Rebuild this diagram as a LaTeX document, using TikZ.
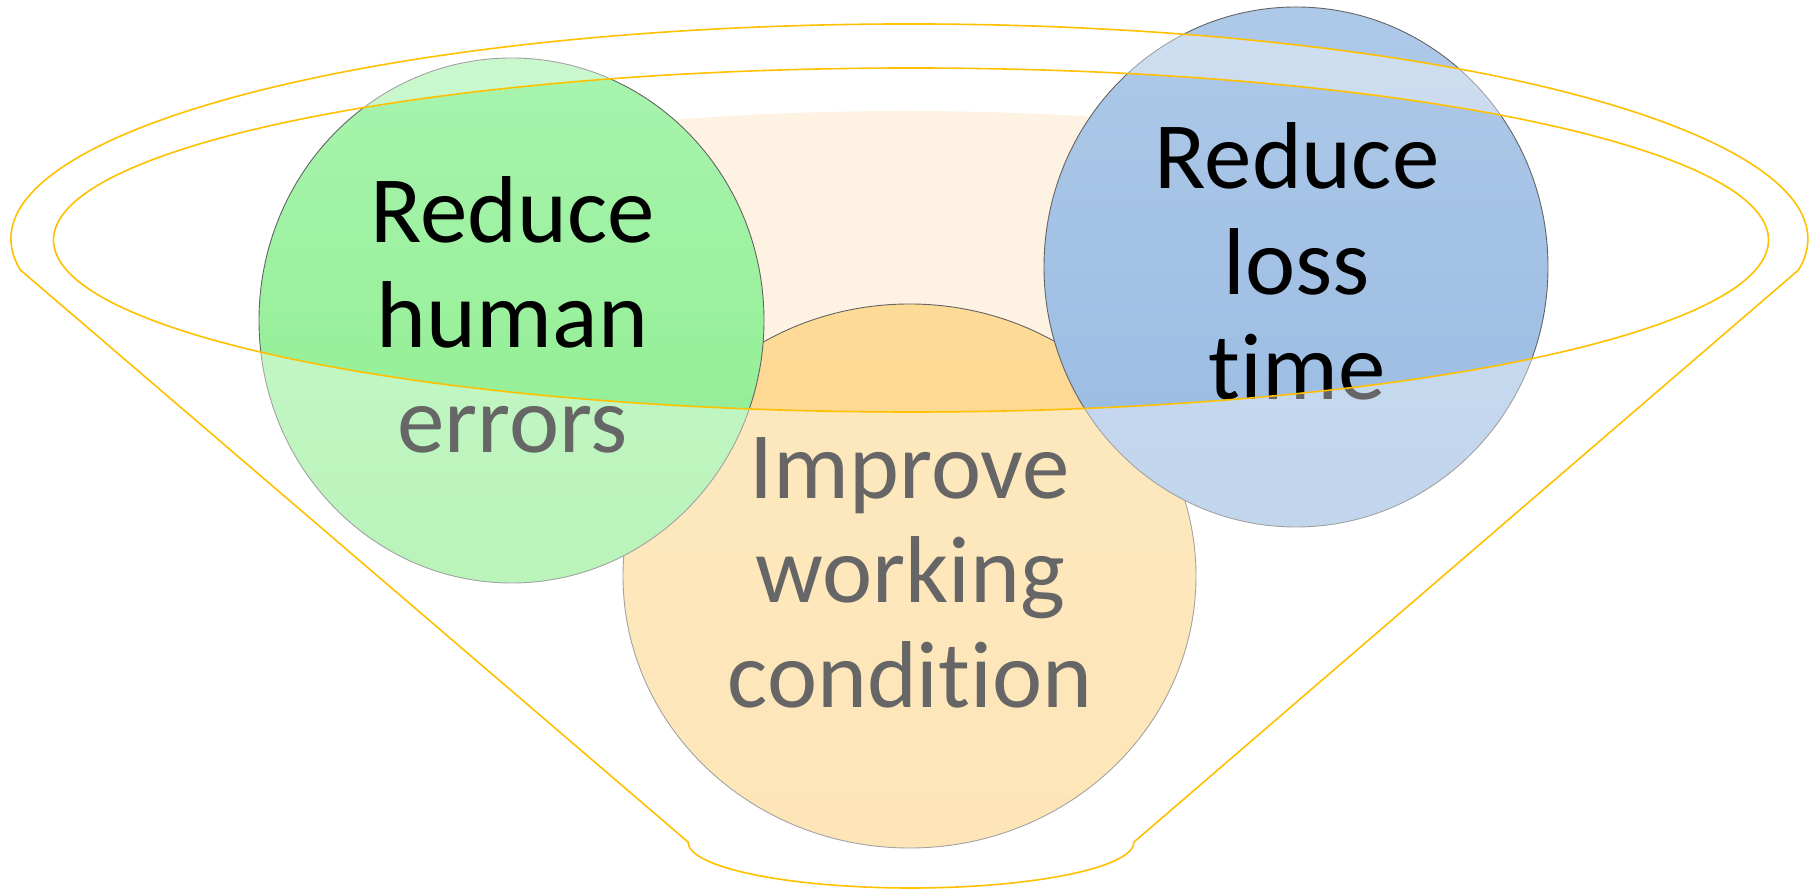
\documentclass[tikz,border=0pt]{standalone}
\usepackage{fontspec}
\setmainfont{Carlito}[Ligatures=NoCommon]
\usetikzlibrary{shapes.geometric}
\definecolor{gold}{RGB}{255,192,0}
\definecolor{peach}{RGB}{254,242,227}
\definecolor{grT}{RGB}{168,244,174}
\definecolor{grB}{RGB}{140,237,140}
\definecolor{blT}{RGB}{174,201,232}
\definecolor{blB}{RGB}{152,186,226}
\definecolor{orT}{RGB}{253,218,150}
\definecolor{orB}{RGB}{253,213,136}
\definecolor{rimgray}{RGB}{100,100,100}
\begin{document}
\begin{tikzpicture}[x=1pt,y=1pt,
  bubble/.style={ellipse, inner sep=0pt, outer sep=0pt, draw=rimgray, line width=0.9pt},
  lbl/.style={anchor=base, inner sep=0pt, text=black, font=\fontsize{95}{105}\selectfont},
  rim/.style={draw=gold, line width=1.6pt},
  glass/.style={fill=white, fill opacity=0.4, even odd rule}]
\useasboundingbox (0,0) rectangle (1809,893);
% funnel contents
\fill[peach] (905,654) ellipse [x radius=630, y radius=128];
% orange bubble
\node[bubble, minimum width=573pt, minimum height=544pt, top color=orT, bottom color=orB] (ocirc) at (909.5,317) {};
\node[lbl] (o1) at (910,394) {Improve};
\node[lbl] (o2) at (910,290) {working};
\node[lbl] (o3) at (910,185) {condition};
% green bubble
\node[bubble, minimum width=505pt, minimum height=525pt, top color=grT, bottom color=grB] (gcirc) at (511.5,572.5) {};
\node[lbl] (g1) at (512.5,650) {Reduce};
\node[lbl] (g2) at (512.5,545) {human};
\node[lbl] (g3) at (512.5,440) {errors};
% blue bubble
\node[bubble, minimum width=504pt, minimum height=520pt, top color=blT, bottom color=blB] (bcirc) at (1296,626) {};
\node[lbl] (b1) at (1297,704) {Reduce};
\node[lbl] (b2) at (1297,598.5) {loss};
\node[lbl] (b3) at (1297,493) {time};
% glass of the funnel
\fill[glass] (20.4,623) arc[start angle=188.3, end angle=-8.3, x radius=898.5, y radius=215]
  -- (1134,51) arc[start angle=0, end angle=-180, x radius=223, y radius=46] -- cycle
  (911,653) ellipse [x radius=857.5, y radius=172];
% funnel rims
\draw[rim, line join=round] (20.4,623) arc[start angle=188.3, end angle=-8.3, x radius=898.5, y radius=215]
  -- (1134,51) arc[start angle=0, end angle=-180, x radius=223, y radius=46] -- cycle;
\draw[rim] (911,653) ellipse [x radius=857.5, y radius=172];
\end{tikzpicture}
\end{document}
